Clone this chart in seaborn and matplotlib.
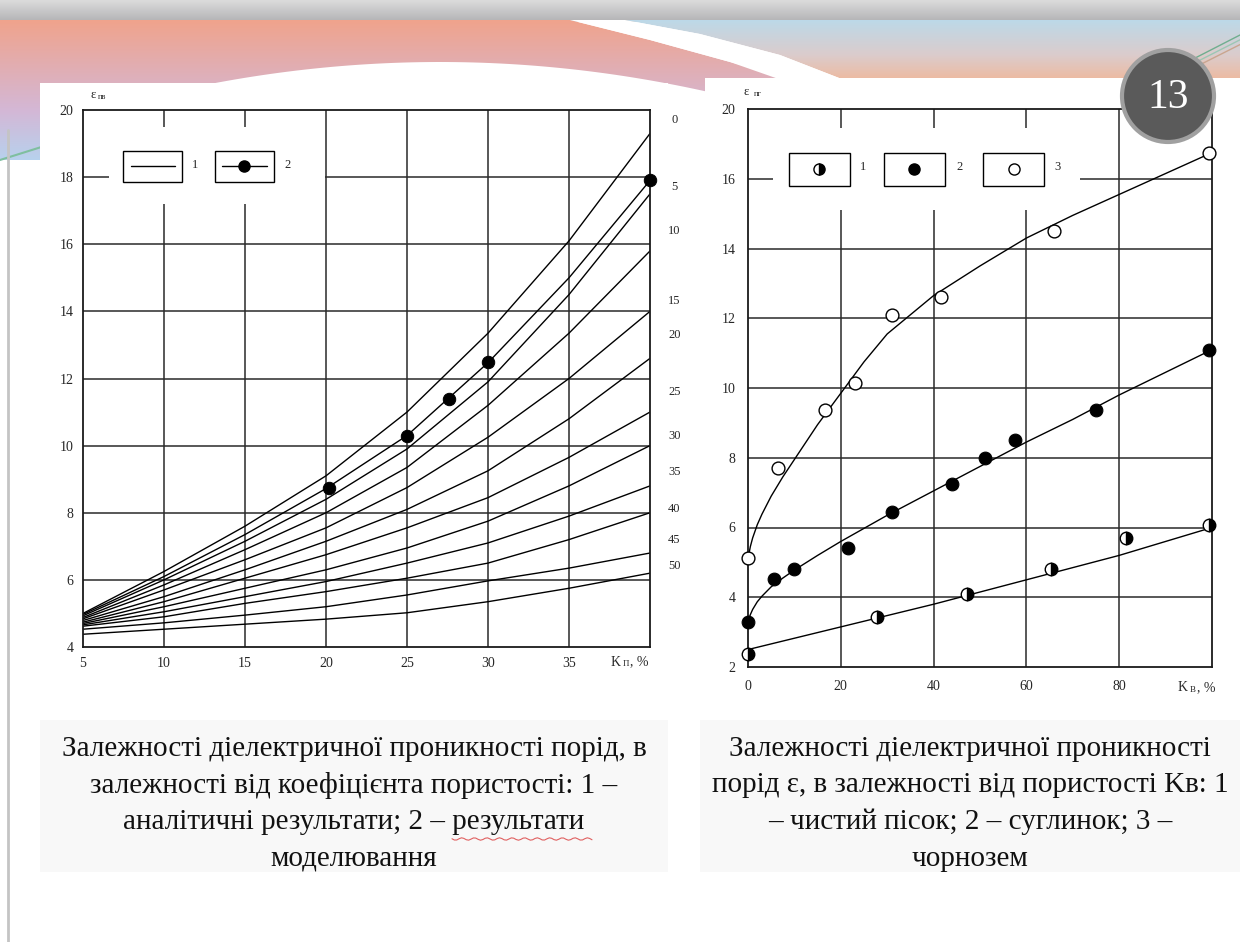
import numpy as np
import pandas as pd
import matplotlib.pyplot as plt
import seaborn as sns
from matplotlib.patches import Rectangle, Circle, Polygon

# ---------------- data: left chart (eps vs porosity Kп) ----------------
kp = [5, 10, 15, 20, 25, 30, 35, 40]
eps_0 = [5.0, 6.25, 7.6, 9.1, 11.0, 13.35, 16.1, 19.3]
eps_5 = [4.93, 6.0, 7.15, 8.4, 9.9, 11.9, 14.5, 17.5]
eps_10 = [4.88, 5.85, 6.9, 8.0, 9.35, 11.2, 13.35, 15.8]
eps_15 = [4.84, 5.7, 6.6, 7.55, 8.75, 10.25, 12.0, 14.0]
eps_20 = [4.79, 5.5, 6.3, 7.15, 8.1, 9.25, 10.8, 12.6]
eps_25 = [4.74, 5.35, 6.05, 6.75, 7.55, 8.45, 9.65, 11.0]
eps_30 = [4.7, 5.2, 5.75, 6.3, 6.95, 7.75, 8.8, 10.0]
eps_35 = [4.66, 5.05, 5.5, 5.95, 6.5, 7.1, 7.9, 8.8]
eps_40 = [4.62, 4.9, 5.3, 5.65, 6.05, 6.5, 7.2, 8.0]
eps_45 = [4.53, 4.72, 4.95, 5.2, 5.55, 5.97, 6.35, 6.8]
eps_50 = [4.38, 4.53, 4.68, 4.83, 5.02, 5.35, 5.75, 6.2]
eps_model_line = [4.97, 6.1, 7.35, 8.72, 10.3, 12.47, 15.0, 17.9]

model_kp = [20.2, 25, 27.6, 30, 40]
model_eps = [8.75, 10.3, 11.4, 12.5, 17.9]

right_labels = ["0", "5", "10", "15", "20", "25", "30", "35", "40", "45", "50"]
right_label_eps = [19.7, 17.7, 16.4, 14.3, 13.3, 11.6, 10.3, 9.2, 8.1, 7.2, 6.4]

left_xticks = [5, 10, 15, 20, 25, 30, 35]
left_yticks = [4, 6, 8, 10, 12, 14, 16, 18, 20]

# ---------------- data: right chart (eps vs Kв) ----------------
sand_kv = [0, 27.8, 47.2, 65.2, 81.5, 99.3]
sand_eps = [2.37, 3.42, 4.09, 4.8, 5.7, 6.07]
sand_fit_kv = [0, 20, 40, 60, 80, 100]
sand_fit_eps = [2.5, 3.15, 3.8, 4.5, 5.2, 6.0]

loam_kv = [0, 5.5, 10, 21.5, 31, 44, 51, 57.5, 75, 99.3]
loam_eps = [3.3, 4.52, 4.81, 5.41, 6.44, 7.24, 8.0, 8.5, 9.36, 11.08]
loam_fit_kv = [0, 0.5, 1, 2, 3, 5, 7.5, 10, 15, 20, 30, 40, 50, 60, 70, 80, 90, 100]
loam_fit_eps = [3.3, 3.5, 3.65, 3.87, 4.03, 4.3, 4.55, 4.78, 5.2, 5.6, 6.35, 7.05, 7.75, 8.45, 9.1, 9.8, 10.45, 11.1]

chern_kv = [0, 6.4, 16.7, 23.1, 31, 41.6, 66, 99.3]
chern_eps = [5.12, 7.7, 9.36, 10.15, 12.1, 12.6, 14.5, 16.75]
chern_fit_kv = [0, 0.5, 1, 2, 3, 5, 7.5, 10, 15, 20, 25, 30, 40, 50, 60, 70, 80, 90, 100]
chern_fit_eps = [5.1, 5.45, 5.7, 6.08, 6.38, 6.9, 7.45, 7.95, 8.95, 9.85, 10.75, 11.55, 12.65, 13.5, 14.3, 14.95, 15.55, 16.15, 16.75]

right_xticks = [0, 20, 40, 60, 80]
right_yticks = [2, 4, 6, 8, 10, 12, 14, 16, 18]
right_ytick_labels = ["2", "4", "6", "8", "10", "12", "14", "16", "20"]

caption_left = ["Залежності діелектричної проникності порід, в",
                "залежності від коефіцієнта пористості: 1 –",
                "аналітичні результати; 2 – результати",
                "моделювання"]
caption_right = ["Залежності діелектричної проникності",
                 "порід ε, в залежності від пористості Kв: 1",
                 "– чистий пісок; 2 – суглинок; 3 –",
                 "чорнозем"]

# ---------------- style ----------------
sns.set_style("white")
plt.rcParams["font.family"] = ["Liberation Serif", "DejaVu Serif"]

W, H = 1240, 942
fig = plt.figure(figsize=(W / 100, H / 100), dpi=100)

# ---------------- slide background ----------------
bg = fig.add_axes([0, 0, 1, 1], zorder=-10)
bg.set_xlim(0, W)
bg.set_ylim(H, 0)
bg.axis("off")

# top grey strip
strip = np.linspace(0, 1, 30)[:, None, None]
strip_img = (1 - strip) * np.array([0.86, 0.86, 0.86]) + strip * np.array([0.70, 0.70, 0.71])
bg.imshow(np.repeat(strip_img, 2, axis=1), extent=[0, W, 22, 0], aspect="auto", zorder=0)

# left banner gradient
t = np.linspace(0, 1, 140)[:, None, None]
c_top = np.array([0.94, 0.64, 0.55])
c_mid = np.array([0.83, 0.72, 0.84])
c_bot = np.array([0.72, 0.82, 0.93])
left_img = np.where(t < 0.65, (1 - t / 0.65) * c_top + (t / 0.65) * c_mid,
                    (1 - (t - 0.65) / 0.35) * c_mid + ((t - 0.65) / 0.35) * c_bot)
im_l = bg.imshow(np.repeat(left_img, 2, axis=1), extent=[0, W, 160, 20], aspect="auto", zorder=1)
clip_l = Polygon([(0, 20), (570, 20), (650, 40), (730, 62), (810, 84), (810, 160), (0, 160)],
                 closed=True, transform=bg.transData, fc="none", ec="none")
bg.add_patch(clip_l)
im_l.set_clip_path(clip_l)

# right banner gradient
t2 = np.linspace(0, 1, 70)[:, None, None]
r_top = np.array([0.74, 0.85, 0.91])
r_mid = np.array([0.86, 0.80, 0.80])
r_bot = np.array([0.96, 0.70, 0.56])
right_img = np.where(t2 < 0.5, (1 - t2 / 0.5) * r_top + (t2 / 0.5) * r_mid,
                     (1 - (t2 - 0.5) / 0.5) * r_mid + ((t2 - 0.5) / 0.5) * r_bot)
im_r = bg.imshow(np.repeat(right_img, 2, axis=1), extent=[0, W, 90, 20], aspect="auto", zorder=1)
clip_r = Polygon([(625, 20), (W, 20), (W, 90), (870, 90), (780, 55), (700, 34)],
                 closed=True, transform=bg.transData, fc="none", ec="none")
bg.add_patch(clip_r)
im_r.set_clip_path(clip_r)

# white swooshes
bg.add_patch(Polygon([(570, 20), (625, 20), (700, 34), (780, 55), (870, 90), (810, 90),
                      (730, 62), (650, 40)], closed=True, fc="white", ec="none", zorder=2))
arc_x = np.linspace(200, 720, 60)
arc_y = 62 + 26 * ((arc_x - 440) / 250) ** 2
bg.add_patch(Polygon(list(zip(arc_x, arc_y)) + [(720, 160), (200, 160)], closed=True,
                     fc="white", ec="none", zorder=2))

# thin coloured strokes
for dx, col in [(0, "#6fae8f"), (8, "#9cc7b4"), (16, "#c9a58f")]:
    bg.plot([1090 + dx, 1240], [112, 35 + dx * 0.6], color=col, lw=1.0, zorder=3)
bg.plot([0, 70], [160, 138], color="#7fbf9f", lw=1.5, zorder=3)
bg.plot([8, 8], [130, H], color="#c4c4c4", lw=2, zorder=3)

# white chart panels and caption boxes
bg.add_patch(Rectangle((40, 83), 628, 609, fc="white", ec="none", zorder=4))
bg.add_patch(Rectangle((705, 78), 535, 627, fc="white", ec="none", zorder=4))
bg.add_patch(Rectangle((40, 720), 628, 152, fc="#f8f8f8", ec="none", zorder=4))
bg.add_patch(Rectangle((700, 720), 540, 152, fc="#f8f8f8", ec="none", zorder=4))

# captions
for i, line in enumerate(caption_left):
    bg.text(354, 749 + i * 36.5, line, ha="center", va="center", fontsize=21, color="#111", zorder=5)
for i, line in enumerate(caption_right):
    bg.text(970, 749 + i * 36.5, line, ha="center", va="center", fontsize=21, color="#111", zorder=5)
# spell-check squiggle under "результати"
sq_x = np.linspace(452, 592, 60)
bg.plot(sq_x, 839 + 1.2 * np.sin(sq_x / 2.0), color="#e06060", lw=0.8, zorder=5)

# ---------------- left chart ----------------
ax1 = fig.add_axes([83 / W, 1 - 647 / H, 567 / W, 537 / H])
ax1.set_xlim(5, 40)
ax1.set_ylim(4, 20)
for x in left_xticks[1:]:
    ax1.axvline(x, color="#2a2a2a", lw=1.1, zorder=1)
for y in left_yticks[1:-1]:
    ax1.axhline(y, color="#2a2a2a", lw=1.1, zorder=1)
ax1.add_patch(Rectangle((6.6, 17.2), 13.35, 2.3, fc="white", ec="none", zorder=1.5))

curves = {"0": eps_0, "m": eps_model_line, "5": eps_5, "10": eps_10, "15": eps_15,
          "20": eps_20, "25": eps_25, "30": eps_30, "35": eps_35, "40": eps_40,
          "45": eps_45, "50": eps_50}
df_left = pd.DataFrame([{"curve": k, "kp": x, "eps": e}
                        for k, vals in curves.items() for x, e in zip(kp, vals)])
sns.lineplot(data=df_left, x="kp", y="eps", units="curve", estimator=None,
             color="black", lw=1.0, ax=ax1, legend=False, zorder=2)
sns.scatterplot(x=model_kp, y=model_eps, color="black", s=80, edgecolor="black",
                ax=ax1, zorder=4, clip_on=False)

# legend boxes
ax1.add_patch(Rectangle((7.47, 17.85), 3.65, 0.94, fc="white", ec="black", lw=1.0, zorder=3))
ax1.plot([7.96, 10.68], [18.33, 18.33], color="black", lw=1.0, zorder=4)
ax1.text(11.9, 18.36, "1", fontsize=9, ha="center", va="center")
ax1.add_patch(Rectangle((13.15, 17.85), 3.65, 0.94, fc="white", ec="black", lw=1.0, zorder=3))
ax1.plot([13.6, 16.35], [18.33, 18.33], color="black", lw=1.0, zorder=4)
ax1.plot([14.95], [18.33], "o", color="black", ms=8, zorder=5)
ax1.text(17.6, 18.36, "2", fontsize=9, ha="center", va="center")

for lab, e in zip(right_labels, right_label_eps):
    ax1.text(41.5, e, lab, ha="center", va="center", fontsize=9, clip_on=False)

ax1.set_xticks(left_xticks)
ax1.set_xticklabels([str(v) for v in left_xticks])
ax1.set_yticks(left_yticks)
ax1.set_yticklabels([str(v) for v in left_yticks])
ax1.tick_params(length=0, labelsize=10, pad=7)
ax1.set_xlabel("")
ax1.set_ylabel("")
ax1.text(37.55, 3.55, "K", fontsize=10, ha="left", va="center", clip_on=False)
ax1.text(38.3, 3.48, "П", fontsize=6.5, ha="left", va="center", clip_on=False)
ax1.text(38.75, 3.55, ", %", fontsize=10, ha="left", va="center", clip_on=False)
ax1.text(5.45, 20.45, "ε", fontsize=9, ha="left", va="center", clip_on=False)
ax1.text(5.95, 20.38, "пв", fontsize=6, ha="left", va="center", clip_on=False)
for s in ax1.spines.values():
    s.set_color("#1a1a1a")
    s.set_linewidth(1.3)

# ---------------- right chart ----------------
ax2 = fig.add_axes([748 / W, 1 - 667 / H, 464 / W, 558 / H])
ax2.set_xlim(0, 100)
ax2.set_ylim(2, 18)
for x in right_xticks[1:]:
    ax2.axvline(x, color="#2a2a2a", lw=1.1, zorder=1)
for y in right_yticks[1:-1]:
    ax2.axhline(y, color="#2a2a2a", lw=1.1, zorder=1)
ax2.add_patch(Rectangle((5.4, 15.1), 66.1, 2.35, fc="white", ec="none", zorder=1.5))

sns.lineplot(x=sand_fit_kv, y=sand_fit_eps, color="black", lw=1.0, ax=ax2, zorder=2)
sns.lineplot(x=loam_fit_kv, y=loam_fit_eps, color="black", lw=1.0, ax=ax2, zorder=2)
sns.lineplot(x=chern_fit_kv, y=chern_fit_eps, color="black", lw=1.0, ax=ax2, zorder=2)

ax2.plot(sand_kv, sand_eps, "o", fillstyle="right", mfc="black", mfcalt="white",
         mec="black", mew=1.0, ms=9, zorder=4, clip_on=False)
sns.scatterplot(x=loam_kv, y=loam_eps, color="black", s=85, edgecolor="black",
                ax=ax2, zorder=4, clip_on=False)
sns.scatterplot(x=chern_kv, y=chern_eps, facecolor="white", s=85, edgecolor="black",
                linewidth=1.0, ax=ax2, zorder=4, clip_on=False)

# legend boxes
for x0, lab in [(8.8, "1"), (29.4, "2"), (50.7, "3")]:
    ax2.add_patch(Rectangle((x0, 15.79), 13.1, 0.96, fc="white", ec="black", lw=1.0, zorder=3))
    ax2.text(x0 + 16.1, 16.33, lab, fontsize=9, ha="center", va="center")
ax2.plot([15.3], [16.29], "o", fillstyle="right", mfc="black", mfcalt="white",
         mec="black", ms=8, zorder=5)
ax2.plot([35.8], [16.29], "o", color="black", ms=8, zorder=5)
ax2.plot([57.3], [16.29], "o", mfc="white", mec="black", ms=8, zorder=5)

ax2.set_xticks(right_xticks)
ax2.set_xticklabels([str(v) for v in right_xticks])
ax2.set_yticks(right_yticks)
ax2.set_yticklabels(right_ytick_labels)
ax2.tick_params(length=0, labelsize=10, pad=9)
ax2.set_xlabel("")
ax2.set_ylabel("")
ax2.text(92.5, 1.4, "K", fontsize=10, ha="left", va="center", clip_on=False)
ax2.text(95.2, 1.33, "В", fontsize=6.5, ha="left", va="center", clip_on=False)
ax2.text(96.8, 1.4, ", %", fontsize=10, ha="left", va="center", clip_on=False)
ax2.text(-1.0, 18.5, "ε", fontsize=9, ha="left", va="center", clip_on=False)
ax2.text(1.2, 18.43, "пг", fontsize=6, ha="left", va="center", clip_on=False)
for s in ax2.spines.values():
    s.set_color("#1a1a1a")
    s.set_linewidth(1.3)

# slide number badge
badge = fig.add_axes([0, 0, 1, 1], zorder=10)
badge.set_xlim(0, W)
badge.set_ylim(H, 0)
badge.axis("off")
badge.add_patch(Circle((1168, 96), 46, fc="#5a5a5a", ec="#a0a0a0", lw=3))
badge.text(1168, 98, "13", color="white", fontsize=30, ha="center", va="center")

fig.savefig("out.png", dpi=100)
